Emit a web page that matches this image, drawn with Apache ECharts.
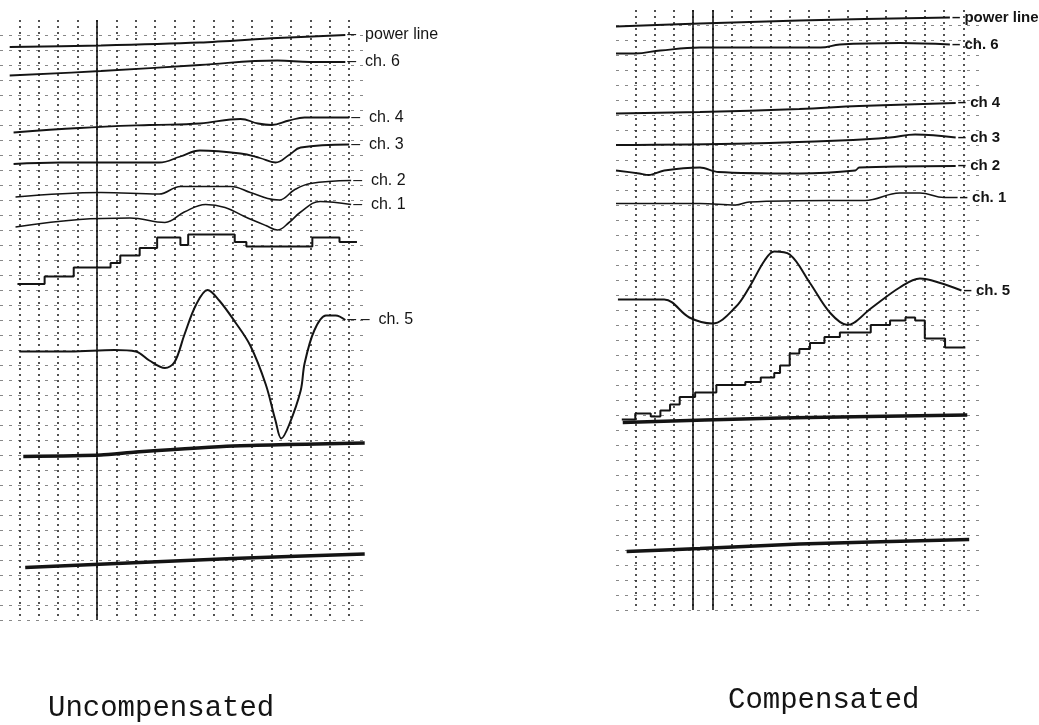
<!DOCTYPE html>
<html>
<head>
<meta charset="utf-8">
<title>Uncompensated / Compensated</title>
<script src="https://cdn.jsdelivr.net/npm/echarts@6/dist/echarts.min.js"></script>
<style>
  html, body { margin: 0; background: #fff; }
  #chart { width: 1039px; height: 725px; }
</style>
</head>
<body>
<div id="chart"></div>
<script>
// x: chart divisions (time), y: chart divisions (amplitude)
// ---- uncompensated record ----
var leftPower = [[0.5, 38.2], [5.2, 38.3], [10.3, 38.5], [14.3, 38.8], [17.8, 39.0]];
var leftCh6 = [[0.5, 36.3], [5.2, 36.6], [10.3, 37.0], [14.3, 37.3], [16.0, 37.2], [17.8, 37.2]];
var leftCh4 = [[0.7, 32.5], [4.1, 32.8], [7.7, 33.0], [10.3, 33.1], [12.4, 33.4], [13.3, 33.1],
  [14.0, 33.0], [14.9, 33.3], [15.7, 33.5], [18.0, 33.5]];
var leftCh3 = [[0.7, 30.4], [3.1, 30.5], [5.2, 30.5], [8.2, 30.5], [9.3, 30.9], [10.3, 31.3],
  [12.4, 31.1], [13.4, 30.8], [14.2, 30.5], [14.9, 31.0], [15.5, 31.5], [18.0, 31.7]];
var leftCh2 = [[0.8, 28.2], [5.2, 28.5], [8.2, 28.4], [9.3, 28.9], [11.9, 28.9], [12.9, 28.5],
  [13.8, 28.1], [14.4, 28.0], [15.2, 28.7], [16.0, 29.1], [18.1, 29.3]];
var leftCh1 = [[0.8, 26.2], [4.1, 26.7], [6.7, 26.8], [8.5, 26.5], [9.5, 27.2], [10.6, 27.7],
  [11.6, 27.5], [12.6, 26.9], [13.7, 26.3], [14.3, 26.0], [14.9, 26.5], [15.5, 27.2],
  [16.5, 27.9], [18.1, 27.7]];
var leftStep = [[0.9, 22.4], [2.3, 22.9], [3.8, 23.5], [5.7, 23.8], [6.2, 24.3], [7.2, 24.8],
  [8.1, 25.5], [9.3, 25.0], [9.7, 25.7], [12.1, 25.2], [12.7, 24.9], [16.1, 25.5],
  [17.5, 25.2], [18.4, 25.2]];
var leftCh5 = [[1.0, 17.9], [3.6, 17.9], [5.9, 18.0], [7.0, 17.9], [7.7, 17.3], [8.5, 16.8],
  [9.0, 17.2], [9.5, 19.0], [10.1, 21.0], [10.7, 22.0], [11.3, 21.3], [12.1, 19.9],
  [12.9, 18.3], [13.7, 15.7], [14.2, 13.3], [14.5, 12.1], [14.9, 13.0], [15.5, 15.3],
  [15.7, 17.1], [16.2, 19.3], [16.8, 20.3], [17.3, 20.3], [17.8, 20.0]];
var leftBase1 = [[1.2, 10.9], [5.2, 11.0], [7.0, 11.2], [12.0, 11.6], [18.8, 11.8]];
var leftBase2 = [[1.3, 3.5], [12.0, 4.1], [18.8, 4.4]];

// ---- compensated record ----
var rightPower = [[0.0, 38.9], [4.35, 39.1], [9.5, 39.3], [17.3, 39.5]];
var rightCh6 = [[0.0, 37.1], [1.0, 37.1], [2.3, 37.3], [4.35, 37.5], [6.4, 37.5], [8.5, 37.5],
  [10.6, 37.5], [11.6, 37.7], [14.7, 37.8], [17.3, 37.7]];
var rightCh4 = [[0.0, 33.1], [4.35, 33.2], [9.5, 33.4], [12.6, 33.6], [17.6, 33.8]];
var rightCh3 = [[0.0, 31.0], [6.9, 31.1], [11.6, 31.3], [14.2, 31.5], [15.5, 31.7], [17.6, 31.5]];
var rightCh2 = [[0.0, 29.3], [1.2, 29.1], [1.7, 29.0], [2.5, 29.3], [4.35, 29.5], [5.3, 29.2],
  [9.5, 29.1], [12.4, 29.3], [12.6, 29.5], [17.6, 29.6]];
var rightCh1 = [[0.0, 27.1], [4.35, 27.1], [6.2, 27.0], [6.9, 27.2], [11.1, 27.3], [12.9, 27.3],
  [14.7, 27.8], [15.75, 27.8], [17.0, 27.5], [17.7, 27.5]];
var rightCh5 = [[0.1, 20.7], [2.5, 20.7], [3.8, 19.5], [5.0, 19.1], [6.2, 20.2], [6.9, 21.5],
  [7.7, 23.3], [8.2, 23.9], [9.0, 23.7], [10.05, 21.8], [11.1, 19.8], [12.0, 19.0],
  [13.2, 20.1], [14.7, 21.5], [15.75, 22.1], [16.8, 21.8], [17.9, 21.3]];
var rightStep = [[0.3, 12.7], [1.0, 13.1], [1.8, 12.9], [2.3, 13.3], [2.8, 13.7], [3.3, 14.2],
  [4.1, 14.5], [5.2, 15.0], [6.7, 15.2], [7.5, 15.5], [8.2, 15.8], [8.5, 16.3], [9.0, 17.1],
  [9.5, 17.4], [10.05, 17.8], [10.8, 18.2], [11.6, 18.5], [13.2, 19.0], [14.2, 19.3],
  [15.0, 19.5], [15.5, 19.3], [16.0, 18.1], [17.05, 17.5], [18.1, 17.5]];
var rightBase1 = [[0.35, 12.5], [8.5, 12.8], [18.2, 13.0]];
var rightBase2 = [[0.55, 3.9], [4.35, 4.1], [9.5, 4.4], [18.3, 4.7]];

var leftLabels = ['power line', 'ch. 6', 'ch. 4', 'ch. 3', 'ch. 2', 'ch. 1', 'ch. 5'];
var rightLabels = ['power line', 'ch. 6', 'ch 4', 'ch 3', 'ch 2', 'ch. 1', 'ch. 5'];
var solidLeft = [5];
var solidRight = [4, 5];

var ink = '#141414';

function trace(data, idx, width, label, smooth, bold, lead) {
  var s = {
    type: 'line',
    xAxisIndex: idx,
    yAxisIndex: idx,
    data: data,
    symbol: 'none',
    smooth: smooth,
    clip: false,
    silent: true,
    lineStyle: { color: ink, width: width }
  };
  if (label) {
    s.endLabel = {
      show: true,
      formatter: (lead || '\u2013  ') + label,
      color: ink,
      distance: 2,
      fontSize: bold ? 15 : 16,
      fontWeight: bold ? 'bold' : 'normal',
      fontFamily: 'Liberation Sans'
    };
  }
  return s;
}

function steps(data, idx) {
  return {
    type: 'line', xAxisIndex: idx, yAxisIndex: idx, data: data, step: 'end',
    symbol: 'none', clip: false, silent: true,
    lineStyle: { color: ink, width: 2 }
  };
}

function solid(xs) {
  return {
    silent: true,
    symbol: ['none', 'none'],
    label: { show: false },
    lineStyle: { type: 'solid', color: ink, width: 1.6 },
    data: xs.map(function (v) { return { xAxis: v }; })
  };
}

function xAx(idx) {
  return {
    type: 'value', gridIndex: idx, min: 0, max: 19, interval: 1,
    axisLine: { show: false }, axisTick: { show: false }, axisLabel: { show: false },
    splitLine: {
      show: true, showMinLine: false, showMaxLine: false,
      lineStyle: { color: '#262626', width: 1.6, type: [2, 4] }
    }
  };
}

function yAx(idx) {
  return {
    type: 'value', gridIndex: idx, min: 0, max: 40, interval: 1,
    axisLine: { show: false }, axisTick: { show: false }, axisLabel: { show: false },
    splitLine: {
      show: true, showMaxLine: false,
      lineStyle: { color: '#888', width: 1, type: [3, 6] }
    }
  };
}

var rLead = '\u2013 ';
var series = [
  trace(leftPower, 0, 2, leftLabels[0], 0.3, false),
  trace(leftCh6, 0, 1.8, leftLabels[1], 0.4, false),
  trace(leftCh4, 0, 1.8, leftLabels[2], 0.4, false),
  trace(leftCh3, 0, 1.8, leftLabels[3], 0.4, false),
  trace(leftCh2, 0, 1.6, leftLabels[4], 0.4, false),
  trace(leftCh1, 0, 1.6, leftLabels[5], 0.4, false),
  steps(leftStep, 0),
  trace(leftCh5, 0, 2, leftLabels[6], 0.35, false, '\u2013 \u2013  '),
  trace(leftBase1, 0, 3.5, null, 0.2),
  trace(leftBase2, 0, 3.5, null, 0.2),

  trace(rightPower, 1, 2, rightLabels[0], 0.3, true, rLead),
  trace(rightCh6, 1, 1.8, rightLabels[1], 0.4, true, rLead),
  trace(rightCh4, 1, 2, rightLabels[2], 0.4, true, rLead),
  trace(rightCh3, 1, 1.8, rightLabels[3], 0.4, true, rLead),
  trace(rightCh2, 1, 1.8, rightLabels[4], 0.3, true, rLead),
  trace(rightCh1, 1, 1.6, rightLabels[5], 0.4, true, rLead),
  trace(rightCh5, 1, 2, rightLabels[6], 0.35, true, rLead),
  steps(rightStep, 1),
  trace(rightBase1, 1, 3.5, null, 0.2),
  trace(rightBase2, 1, 3.5, null, 0.2)
];
series[9].markLine = solid(solidLeft);
series[19].markLine = solid(solidRight);

var chart = echarts.init(document.getElementById('chart'), null, { renderer: 'canvas' });
chart.setOption({
  backgroundColor: '#fff',
  animation: false,
  title: [
    {
      text: 'Uncompensated', left: 43, top: 689,
      textStyle: { fontFamily: 'Liberation Mono', fontSize: 29, fontWeight: 'normal', color: ink }
    },
    {
      text: 'Compensated', left: 723, top: 681,
      textStyle: { fontFamily: 'Liberation Mono', fontSize: 29, fontWeight: 'normal', color: ink }
    }
  ],
  grid: [
    { left: 0, top: 20, width: 368.6, height: 600 },
    { left: 616, top: 10, width: 366.7, height: 600 }
  ],
  xAxis: [xAx(0), xAx(1)],
  yAxis: [yAx(0), yAx(1)],
  series: series
});
</script>
</body>
</html>
